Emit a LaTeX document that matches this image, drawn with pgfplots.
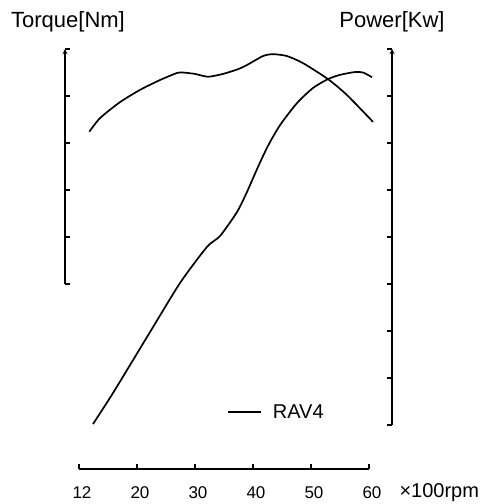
\documentclass[border=0pt]{standalone}
\usepackage{pgfplots}
\pgfplotsset{compat=1.18}
\usepackage{fontspec}
\setmainfont{Liberation Sans}

% shared style of the two y axes (x runs in display units, label 12 sits at 10)
\pgfplotsset{
  rpmaxis/.style={
    scale only axis,
    width=327pt,
    xmin=7.586, xmax=63.97,
    axis x line=none,
    axis line style={-, line width=1.3pt},
    tick style={line width=1.3pt, black},
    major tick length=5pt,
    yticklabels={},
    clip=false,
  },
  curve/.style={black, line width=1.7pt, smooth, tension=0.4},
}

\begin{document}
\begin{tikzpicture}
\path[use as bounding box] (0pt,0pt) rectangle (480pt,504pt);

% torque, left scale
\begin{axis}[rpmaxis,
    at={(65pt,220pt)}, anchor=south west,
    height=235pt,
    ymin=3, ymax=8, ytick={3,...,8},
    axis y line=left, ytick align=inside]
\addplot[curve] coordinates {
(11.78,6.24) (13.62,6.53) (17.07,6.87) (20.52,7.13) (23.97,7.34)
(26.90,7.49) (27.93,7.50) (30.00,7.47) (32.24,7.41) (34.83,7.47)
(37.41,7.57) (38.97,7.66) (41.72,7.85) (43.45,7.89) (45.86,7.85)
(48.62,7.70) (52.93,7.36) (56.21,7.02) (60.69,6.45)
};
\end{axis}

% power, right scale
\begin{axis}[rpmaxis,
    at={(65pt,79pt)}, anchor=south west,
    height=376pt,
    ymin=0, ymax=8, ytick={0,...,8},
    axis y line=right, ytick align=inside,
    legend style={at={(axis cs:35.52,0.277)}, anchor=west, draw=none, fill=none,
      inner sep=0pt, font=\fontsize{20}{24}\selectfont},
    legend cell align=left,
    legend image code/.code={\draw[#1] (0pt,0pt) -- (33pt,0pt); \path (42pt,0pt);}]
\addplot[curve] coordinates {
(12.41,0.02) (15.86,0.68) (21.72,1.87) (27.41,3.02) (32.07,3.79)
(34.31,4.02) (37.24,4.53) (38.97,4.96) (40.86,5.49) (42.59,5.94)
(44.66,6.38) (47.59,6.85) (50.34,7.17) (52.93,7.36) (55.00,7.45)
(57.59,7.51) (58.97,7.50) (60.52,7.40)
};
\addlegendentry{RAV4}
\end{axis}

% rpm scale
\begin{axis}[scale only axis,
    at={(79pt,35pt)}, anchor=south west,
    width=290pt, height=10pt,
    xmin=10, xmax=60, ymin=0, ymax=1,
    axis x line=bottom, axis y line=none,
    axis line style={-, line width=1.3pt},
    tick style={line width=1.3pt, black},
    xtick align=inside, major tick length=5pt,
    xtick={10,20,30,40,50,60},
    xticklabels={12,20,30,40,50,60},
    xticklabel style={font=\fontsize{17}{20}\selectfont, yshift=-14pt, xshift=3pt},
    /pgf/number format/assume math mode=true]
\end{axis}

\node[font=\fontsize{22}{26}\selectfont] at (68pt,482pt) {Torque[Nm]};
\node[font=\fontsize{22}{26}\selectfont] at (392pt,482pt) {Power[Kw]};
\node[anchor=base west, font=\fontsize{20}{24}\selectfont] at (396pt,6pt) {×100rpm};
\end{tikzpicture}
\end{document}
